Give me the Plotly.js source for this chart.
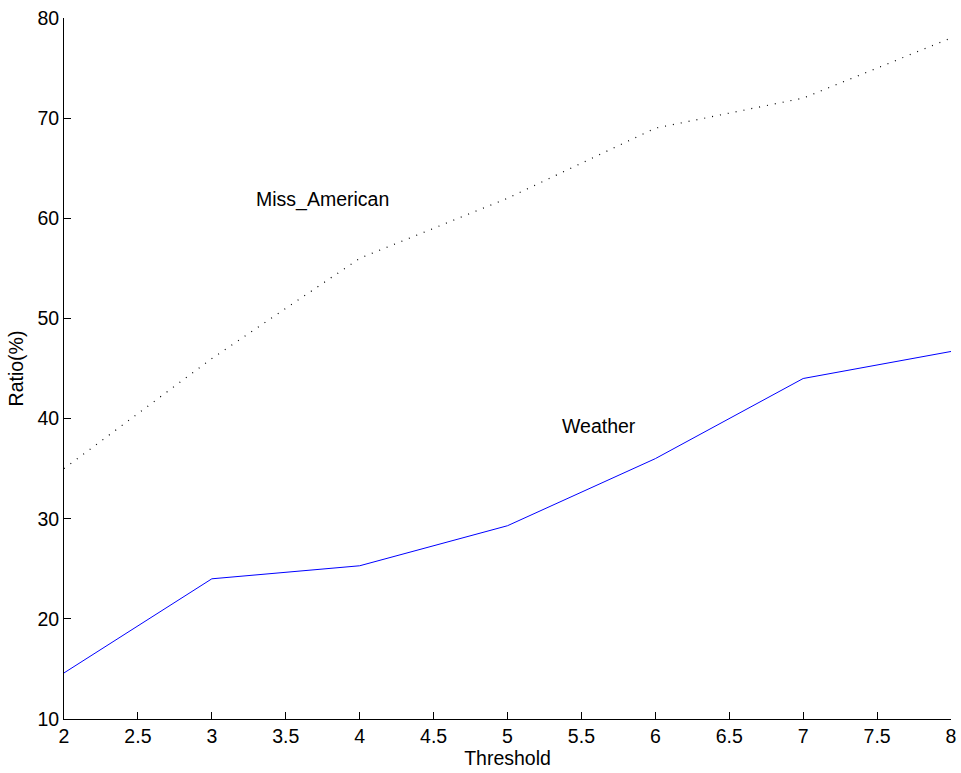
<!DOCTYPE html>
<html><head><meta charset="utf-8">
<script src="https://cdn.plot.ly/plotly-3.0.1.min.js"></script>
<style>body{margin:0;background:#fff}#chart{width:961px;height:773px}</style>
</head><body><div id="chart"></div>
<script>
const thresholds = [2, 3, 4, 5, 6, 7, 8];
const weather = [14.6, 24.0, 25.3, 29.3, 36.0, 44.0, 46.7];
const missAmerican = [35.0, 46.0, 56.0, 62.0, 69.0, 72.0, 78.0];
const xTicks = [2, 2.5, 3, 3.5, 4, 4.5, 5, 5.5, 6, 6.5, 7, 7.5, 8];
const yTicks = [10, 20, 30, 40, 50, 60, 70, 80];

const font = {family: 'Liberation Sans, Arial, sans-serif', size: 19.5, color: '#000'};
const traces = [
  {x: thresholds, y: missAmerican, mode: 'lines', line: {color: '#000', width: 1.2, dash: '1px,7px'}, name: 'Miss_American'},
  {x: thresholds, y: weather, mode: 'lines', line: {color: '#0000ff', width: 1}, name: 'Weather'}
];
const layout = {
  width: 961, height: 773,
  margin: {l: 64, r: 10, t: 18, b: 54},
  paper_bgcolor: '#fff', plot_bgcolor: '#fff',
  showlegend: false,
  font: font,
  xaxis: {range: [2, 8], tickvals: xTicks, ticktext: xTicks.map(String), ticks: 'inside', ticklen: 7, tickcolor: '#000',
    showline: true, linecolor: '#000', linewidth: 1, showgrid: false, zeroline: false,
    title: {text: 'Threshold', font: font, standoff: 3}, tickfont: font},
  yaxis: {range: [10, 80], tickvals: yTicks, ticks: 'inside', ticklen: 7, tickcolor: '#000',
    showline: true, linecolor: '#000', linewidth: 1, showgrid: false, zeroline: false,
    title: {text: 'Ratio(%)', font: font, standoff: 8}, tickfont: font},
  annotations: [
    {x: 3.75, y: 61.9, xref: 'x', yref: 'y', text: 'Miss_American', showarrow: false, font: font},
    {x: 5.62, y: 39.3, xref: 'x', yref: 'y', text: 'Weather', showarrow: false, font: font}
  ]
};
Plotly.newPlot('chart', traces, layout, {displayModeBar: false});
</script></body></html>
